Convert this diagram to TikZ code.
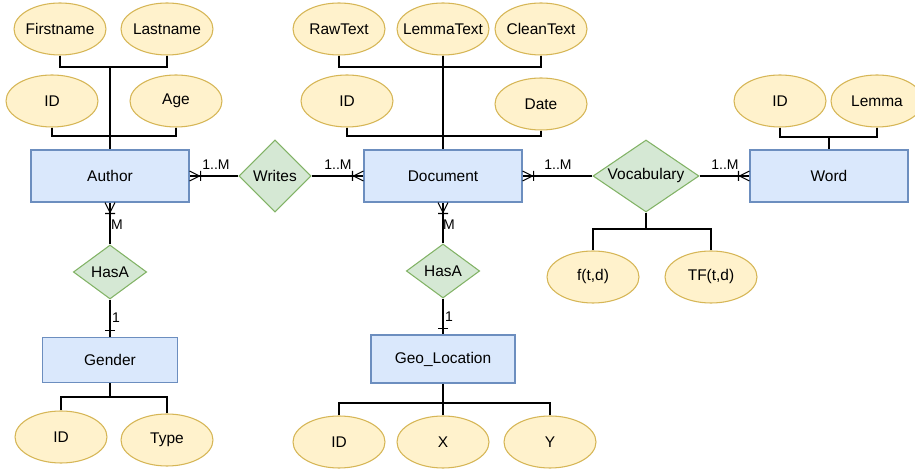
\documentclass[tikz,border=0pt]{standalone}
\usepackage{fontspec}
\setmainfont{Liberation Sans}
\usetikzlibrary{shapes.geometric}
\definecolor{entfill}{HTML}{DAE8FC}
\definecolor{entline}{HTML}{6C8EBF}
\definecolor{relfill}{HTML}{D5E8D4}
\definecolor{relline}{HTML}{82B366}
\definecolor{attfill}{HTML}{FFF2CC}
\definecolor{attline}{HTML}{D6B656}
\pgfdeclarearrow{
  name = CrowBar,
  setup code = {
    \pgfarrowssettipend{0pt}
    \pgfarrowssetlineend{0pt}
    \pgfarrowssetbackend{-8.5pt}
    \pgfarrowssetvisualbackend{-8.5pt}
    \pgfarrowsupperhullpoint{0pt}{3.75pt}
    \pgfarrowsupperhullpoint{-8.5pt}{3.75pt}
  },
  drawing code = {
    \pgfpathmoveto{\pgfqpoint{0pt}{3.75pt}}
    \pgfpathlineto{\pgfqpoint{-7.5pt}{0pt}}
    \pgfpathlineto{\pgfqpoint{0pt}{-3.75pt}}
    \pgfpathmoveto{\pgfqpoint{-8.25pt}{3.75pt}}
    \pgfpathlineto{\pgfqpoint{-8.25pt}{-3.75pt}}
    \pgfusepathqstroke
  }
}
\pgfdeclarearrow{
  name = OneBar,
  setup code = {
    \pgfarrowssettipend{0pt}
    \pgfarrowssetlineend{0pt}
    \pgfarrowssetbackend{-5pt}
    \pgfarrowssetvisualbackend{-5pt}
    \pgfarrowsupperhullpoint{-4.5pt}{3.75pt}
  },
  drawing code = {
    \pgfpathmoveto{\pgfqpoint{-4.5pt}{3.75pt}}
    \pgfpathlineto{\pgfqpoint{-4.5pt}{-3.75pt}}
    \pgfusepathqstroke
  }
}
\tikzset{
  every node/.style = {font=\fontsize{11.6}{13}\selectfont},
  flat/.style = {inner sep=0pt, execute at begin node={\hbox to 0pt\bgroup\hss}, execute at end node={\hss\egroup}},
  entity/.style = {draw=entline, fill=entfill, minimum width=118.5pt, minimum height=39pt},
  attr/.style = {ellipse, flat, draw=attline, fill=attfill, minimum width=69pt, minimum height=39pt},
  rel/.style = {diamond, flat, draw=relline, fill=relfill, minimum width=54pt, minimum height=54pt},
  lab/.style = {font=\fontsize{10.5}{12}\selectfont, inner sep=0pt}
}

\begin{document}
\begin{tikzpicture}[x=0.75pt, y=-0.75pt, line width=0.8pt]
\useasboundingbox (0,0) rectangle (915,473);
\node[entity] (author) at (110,176) {Author};
\node[entity] (doc) at (443,176) {Document};
\node[entity] (word) at (829,176) {Word};
\node[entity, minimum width=101.25pt, minimum height=33.75pt] (gender) at (110,360) {Gender};
\node[entity, minimum width=108pt, minimum height=36pt] (geo) at (443,359) {Geo\_Location};
\node[rel] (writes) at (275,176) {Writes};
\node[rel, minimum width=79.5pt] (voc) at (646,176) {Vocabulary};
\node[rel, minimum width=55pt, minimum height=40.5pt] (hasa1) at (110,272) {HasA};
\node[rel, minimum width=55pt, minimum height=40.5pt] (hasa2) at (443,271) {HasA};
\node[attr] (fname) at (60,29) {Firstname};
\node[attr] (lname) at (167,29) {Lastname};
\node[attr] (aid) at (52,101) {ID};
\node[attr] (age) at (176,101) {Age};
\node[attr] (raw) at (339,29) {RawText};
\node[attr] (lemtext) at (443,29) {LemmaText};
\node[attr] (clean) at (541,29) {CleanText};
\node[attr] (did) at (347,101) {ID};
\node[attr] (date) at (541,104) {Date};
\node[attr] (wid) at (780,101) {ID};
\node[attr] (lemma) at (877,101) {Lemma};
\node[attr] (ftd) at (593,277) {f(t,d)};
\node[attr] (tftd) at (711,277) {TF(t,d)};
\node[attr] (gid) at (61,437) {ID};
\node[attr] (type) at (167,440) {Type};
\node[attr] (lid) at (339,442) {ID};
\node[attr] (lx) at (443,442) {X};
\node[attr] (ly) at (550,442) {Y};
\coordinate (a1) at (110,67);
\coordinate (a2) at (110,136);
\coordinate (d1) at (443,67);
\coordinate (d2) at (443,136);
\coordinate (w1) at (829,137);
\coordinate (v1) at (646,229);
\coordinate (g1) at (110,397);
\coordinate (l1) at (443,403);
\draw (fname.south) |- (a1);
\draw (lname.south) |- (a1);
\draw (aid.south) |- (a2);
\draw (age.south) |- (a2);
\draw (a1) -- (author.north);
\draw (raw.south) |- (d1);
\draw (clean.south) |- (d1);
\draw (lemtext.south) -- (d1);
\draw (did.south) |- (d2);
\draw (date.south) |- (d2);
\draw (d1) -- (doc.north);
\draw (wid.south) |- (w1);
\draw (lemma.south) |- (w1);
\draw (w1) -- (word.north);
\draw (voc.south) -- (v1);
\draw (v1) -| (ftd.north);
\draw (v1) -| (tftd.north);
\draw (gender.south) -- (g1);
\draw (g1) -| (gid.north);
\draw (g1) -| (type.north);
\draw (geo.south) -- (l1);
\draw (l1) -| (lid.north);
\draw (l1) -- (lx.north);
\draw (l1) -| (ly.north);
\draw[-{CrowBar[]}] (writes.west) -- (author.east);
\draw[-{CrowBar[]}] (writes.east) -- (doc.west);
\draw[-{CrowBar[]}] (voc.west) -- (doc.east);
\draw[-{CrowBar[]}] (voc.east) -- (word.west);
\draw[-{CrowBar[]}] (hasa1.north) -- (author.south);
\draw[-{CrowBar[]}] (hasa2.north) -- (doc.south);
\draw[-{OneBar[]}] (hasa1.south) -- (gender.north);
\draw[-{OneBar[]}] (hasa2.south) -- (geo.north);
\node[lab] (m1) at (216,165) {1..M};
\node[lab] (m2) at (338,165) {1..M};
\node[lab] (m3) at (558,165) {1..M};
\node[lab] (m4) at (725,165) {1..M};
\node[lab] (m5) at (117,225) {M};
\node[lab] (m6) at (449,225) {M};
\node[lab] (o1) at (116,318) {1};
\node[lab] (o2) at (449,317) {1};
\end{tikzpicture}
\end{document}
